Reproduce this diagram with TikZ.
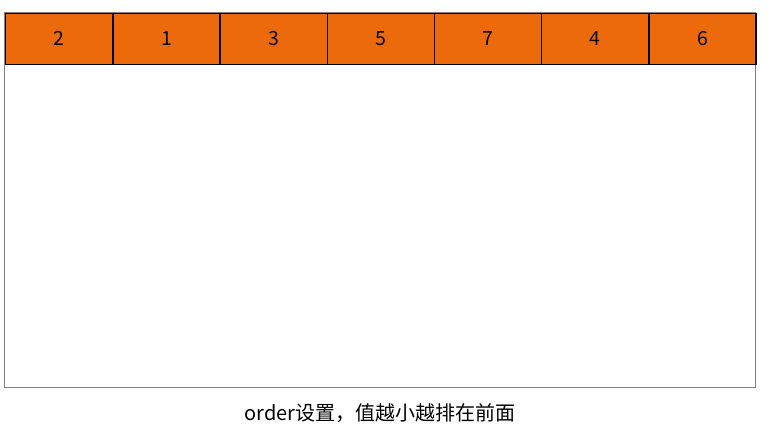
\documentclass[tikz,border=0pt]{standalone}
\usepackage{fontspec}
\usepackage{tikz}
\setmainfont{Noto Sans CJK SC}
\definecolor{itemorange}{RGB}{237,106,12}
\definecolor{boxgray}{RGB}{128,128,128}

\begin{document}
\begin{tikzpicture}[x=1pt,y=-1pt,
    item/.style={draw=black, line width=1.3pt, fill=itemorange,
      minimum width=107.2pt, minimum height=51pt, inner sep=0pt,
      anchor=north west, font=\fontsize{19.5}{19.5}\selectfont}]
  \useasboundingbox (0,0) rectangle (770,437);
  % container box
  \draw[boxgray, line width=1pt] (4.5,12.5) rectangle (755.5,387.5);
  % flex items, in their displayed order
  \foreach \v [count=\i] in {2,1,3,5,7,4,6}
    \node[item] (c\i) at ({5+107.2*(\i-1)},12.5) {\v};
  % caption
  \node[font=\fontsize{20}{20}\selectfont] (cap) at (380,413) {order设置，值越小越排在前面};
\end{tikzpicture}
\end{document}
